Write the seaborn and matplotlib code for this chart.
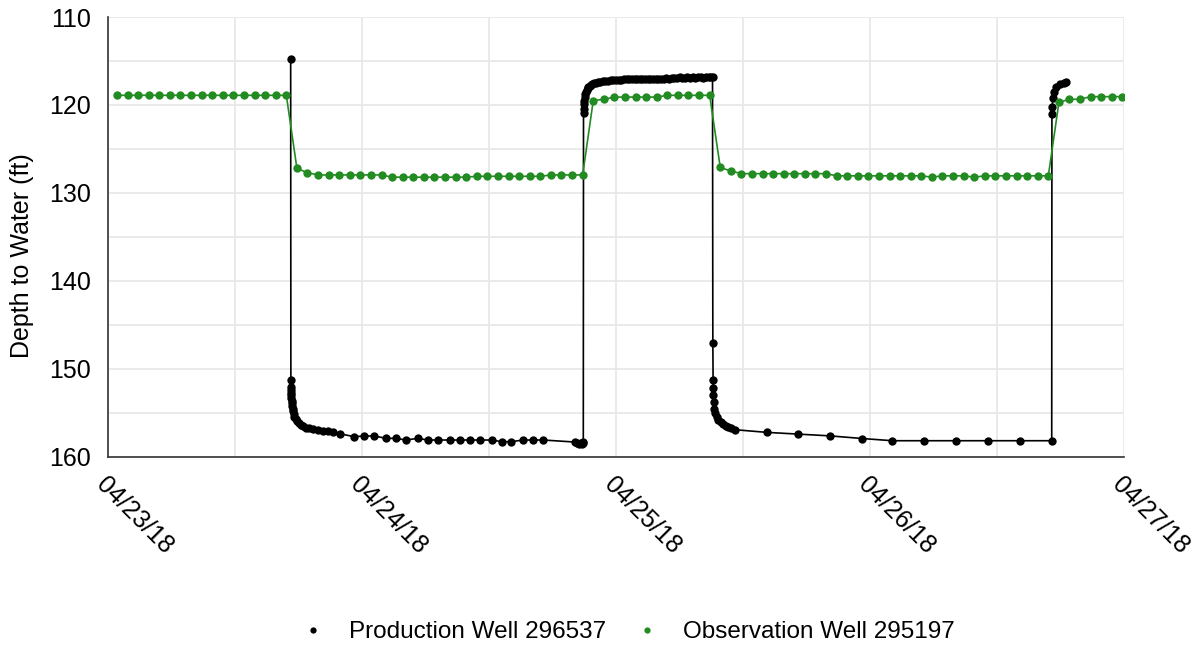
import matplotlib
matplotlib.use("Agg")
import matplotlib.pyplot as plt
import matplotlib.dates as mdates
from matplotlib.lines import Line2D
from matplotlib.ticker import MultipleLocator
import numpy as np
import pandas as pd
import seaborn as sns

# ---- data ---------------------------------------------------------------
start = pd.Timestamp("2018-04-23 00:00")

# Observation well 295197: hourly logger readings (depth to water, ft)
obs_first_reading = "2018-04-23 00:51"
obs_depth = (
    [118.9] * 17
    + [127.2, 127.7]
    + [127.95] * 7
    + [128.2] * 8
    + [128.1] * 7
    + [127.95] * 4
    + [119.5, 119.35]
    + [119.1] * 5
    + [118.9] * 5
    + [127.1, 127.5]
    + [127.8] * 9
    + [128.05] * 9
    + [128.2, 128.05, 128.05, 128.05, 128.2]
    + [128.05] * 7
    + [119.7, 119.35, 119.35]
    + [119.05] * 4
)

# Production well 296537: hours after 04/23/18 00:00 and depth to water (ft)
prod_hours = [
    17.26, 17.27, 17.28, 17.29, 17.30, 17.31, 17.33, 17.35, 17.37, 17.40,
    17.44, 17.49, 17.55, 17.62, 17.72, 17.85, 18.00, 18.20, 18.45, 18.70,
    19.00, 19.40, 19.80, 20.30, 20.80, 21.30, 21.90,
    23.24, 24.22, 25.16, 26.27, 27.21, 28.16, 29.26, 30.21, 31.15, 32.31,
    33.26, 34.20, 35.15, 36.26, 37.20, 38.08, 39.24, 40.19, 41.13,
    44.10, 44.30, 44.50, 44.65, 44.78, 44.86, 44.91,
    44.93, 44.96, 44.99, 45.02, 45.06, 45.10, 45.16, 45.23, 45.31, 45.40,
    45.50, 45.62, 45.76, 45.92, 46.10, 46.30, 46.50, 46.75, 47.00, 47.25,
    47.50, 47.75, 48.00, 48.25, 48.50, 48.75, 49.00, 49.25, 49.50, 49.75,
    50.00, 50.25, 50.50, 50.75, 51.00, 51.25, 51.50, 51.75, 52.00, 52.25,
    52.50, 52.75, 53.00, 53.25, 53.50, 53.75, 54.00, 54.25, 54.50, 54.75,
    55.00, 55.25, 55.50, 55.75, 56.00, 56.25, 56.50, 56.75, 57.00, 57.12,
    57.15, 57.17, 57.18, 57.19, 57.22, 57.28, 57.38, 57.51, 57.68, 57.88,
    58.10, 58.35, 58.60, 58.90, 59.25,
    62.24, 65.22, 68.22, 71.27, 74.11, 77.13, 80.13, 83.18, 86.17, 89.17,
    89.19, 89.22, 89.27, 89.38, 89.62, 89.95, 90.30, 90.55,
]
prod_depth = [
    114.8, 151.3, 152.0, 152.4, 152.7, 153.0, 153.3, 153.6, 153.9, 154.2,
    154.5, 154.8, 155.1, 155.4, 155.7, 155.95, 156.15, 156.35, 156.5, 156.65,
    156.75, 156.85, 156.95, 157.0, 157.1, 157.2, 157.35,
    157.69, 157.61, 157.61, 157.88, 157.88, 158.07, 157.88, 158.07, 158.07, 158.07,
    158.07, 158.07, 158.07, 158.07, 158.26, 158.26, 158.07, 158.07, 158.07,
    158.3, 158.45, 158.5, 158.45, 158.5, 158.4, 158.35,
    120.9, 120.4, 119.9, 119.5, 119.1, 118.8, 118.5, 118.3, 118.1, 117.9,
    117.8, 117.7, 117.6, 117.5, 117.45, 117.4, 117.35, 117.3, 117.25, 117.25,
    117.2, 117.2, 117.15, 117.15, 117.15, 117.1, 117.1, 117.1, 117.1, 117.05,
    117.05, 117.05, 117.05, 117.05, 117.0, 117.05, 117.0, 117.0, 117.0, 117.0,
    117.0, 116.95, 117.0, 116.95, 116.95, 116.95, 116.85, 116.95, 116.9, 116.85,
    116.9, 116.85, 116.9, 116.85, 116.85, 116.9, 116.85, 116.85, 116.85, 116.85,
    147.0, 151.3, 152.2, 152.95, 153.7, 154.5, 155.0, 155.4, 155.8, 156.05,
    156.25, 156.45, 156.6, 156.75, 156.9,
    157.2, 157.4, 157.6, 157.9, 158.15, 158.15, 158.15, 158.15, 158.15, 158.15,
    121.0, 120.2, 119.2, 118.5, 117.9, 117.6, 117.45, 117.35,
]

prod_label = "Production Well 296537"
obs_label = "Observation Well 295197"
y_label = "Depth to Water (ft)"

prod = pd.DataFrame({
    "time": start + pd.to_timedelta(prod_hours, unit="h"),
    "depth": prod_depth,
})
obs = pd.DataFrame({
    "time": pd.date_range(obs_first_reading, periods=len(obs_depth), freq="h"),
    "depth": obs_depth,
})

# ---- figure -------------------------------------------------------------
sns.set_theme(style="white")
plt.rcParams["font.family"] = ["Liberation Sans", "DejaVu Sans"]
plt.rcParams["text.color"] = "black"

fig = plt.figure(figsize=(11.99, 6.47), dpi=100)
ax = fig.add_axes([108 / 1199, 1 - 457 / 647, 1016 / 1199, 440 / 647])

green = "#228B22"
sns.lineplot(data=prod, x="time", y="depth", ax=ax, color="black",
             marker="o", markersize=6, markeredgewidth=0, linewidth=1.2,
             estimator=None, sort=False, zorder=3)
sns.lineplot(data=obs, x="time", y="depth", ax=ax, color=green,
             marker="o", markersize=6, markeredgewidth=0, linewidth=1.2,
             estimator=None, sort=False, zorder=4)

# axes ranges: depth increases downward
ax.set_ylim(160, 110)
ax.set_xlim(pd.Timestamp("2018-04-23"), pd.Timestamp("2018-04-27"))

ax.yaxis.set_major_locator(MultipleLocator(10))
ax.yaxis.set_minor_locator(MultipleLocator(5))
ax.xaxis.set_major_locator(mdates.DayLocator())
ax.xaxis.set_minor_locator(mdates.HourLocator(byhour=[12]))
ax.xaxis.set_major_formatter(mdates.DateFormatter("%m/%d/%y"))

grid_c = "#e8e8e8"
ax.grid(True, which="major", color=grid_c, linewidth=1.3)
ax.grid(True, which="minor", color=grid_c, linewidth=1.3)
ax.set_axisbelow(True)

for side in ("top", "right"):
    ax.spines[side].set_visible(False)
for side in ("left", "bottom"):
    ax.spines[side].set_color("#333333")
    ax.spines[side].set_linewidth(1.2)

ax.tick_params(axis="both", which="major", direction="out", length=6,
               width=1.0, color="#333333", labelsize=18, labelcolor="black")
ax.tick_params(axis="y", which="major", pad=6)
ax.tick_params(axis="x", which="major", pad=5)
ax.tick_params(axis="both", which="minor", length=0)

for lbl in ax.get_xticklabels():
    lbl.set_rotation(-45)
    lbl.set_ha("left")
    lbl.set_va("top")
    lbl.set_rotation_mode("anchor")

ax.set_xlabel("")
ax.set_ylabel(y_label, fontsize=18, color="black", va="center")
ax.yaxis.set_label_coords(-0.085, 0.457)

handles = [
    Line2D([], [], linestyle="none", marker="o", markersize=4.5,
           markeredgewidth=0, color="black"),
    Line2D([], [], linestyle="none", marker="o", markersize=4.5,
           markeredgewidth=0, color=green),
]
leg = fig.legend(handles, [prod_label, obs_label], loc="center",
                 bbox_to_anchor=(628 / 1199, 1 - 632 / 647), ncol=2,
                 frameon=False, fontsize=17.5, handlelength=1.0,
                 handletextpad=0.98, columnspacing=1.18)
for txt in leg.get_texts():
    txt.set_color("black")

fig.savefig("out.png", dpi=100)
